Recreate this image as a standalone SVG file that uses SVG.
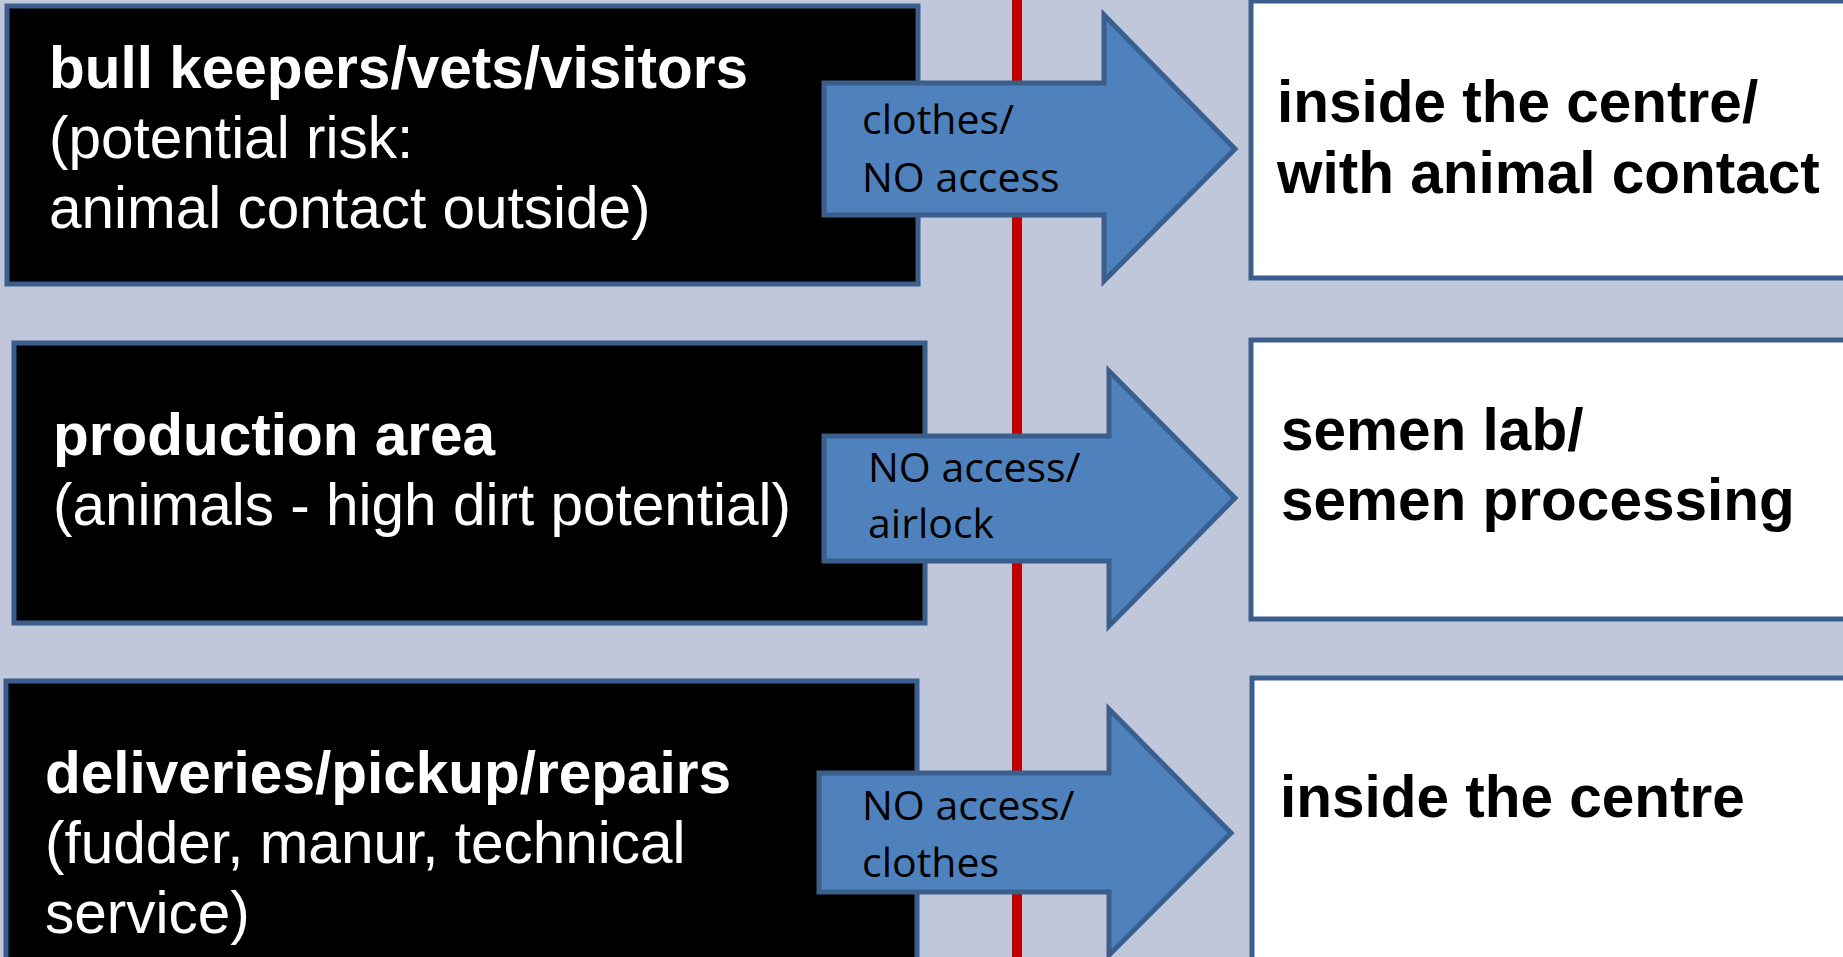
<svg xmlns="http://www.w3.org/2000/svg" width="1843" height="957" viewBox="0 0 1843 957">
<style>
.src{fill:#000;stroke:#3B5F8C;stroke-width:5}
.dst{fill:#fff;stroke:#3B5F8C;stroke-width:5}
.arr{fill:#4F81BD;stroke:#3B5F8C;stroke-width:5;stroke-linejoin:miter}
.tw{font-family:"Liberation Sans",Arial,sans-serif;font-size:58.5px;fill:#fff}
.tb{font-family:"Liberation Sans",Arial,sans-serif;font-size:58.5px;font-weight:bold;fill:#000}
.ta{font-family:"Open Sans","Noto Sans",sans-serif;font-size:41px;fill:#000}
.b{font-weight:bold}
</style>
<rect x="0" y="0" width="1843" height="957" fill="#C0C7DB"/>
<line x1="1017" y1="0" x2="1017" y2="957" stroke="#C00000" stroke-width="10"/>

<g id="node-bull-keepers">
<rect class="src" x="7" y="6" width="911" height="278"/>
<text class="tw"><tspan class="b" x="49" y="88">bull keepers/vets/visitors</tspan><tspan x="49" y="158">(potential risk:</tspan><tspan x="49" y="228">animal contact outside)</tspan></text>
</g>
<g id="node-production-area">
<rect class="src" x="14" y="343" width="911" height="280"/>
<text class="tw"><tspan class="b" x="53" y="455">production area</tspan><tspan x="53" y="525">(animals - high dirt potential)</tspan></text>
</g>
<g id="node-deliveries">
<rect class="src" x="6" y="681" width="911" height="290"/>
<text class="tw"><tspan class="b" x="45" y="793">deliveries/pickup/repairs</tspan><tspan x="45" y="863">(fudder, manur, technical</tspan><tspan x="45" y="933">service)</tspan></text>
</g>

<g id="node-inside-animal-contact">
<rect class="dst" x="1251" y="1" width="610" height="277"/>
<text class="tb"><tspan x="1277" y="122">inside the centre/</tspan><tspan x="1277" y="193">with animal contact</tspan></text>
</g>
<g id="node-semen-lab">
<rect class="dst" x="1251" y="340" width="610" height="279"/>
<text class="tb"><tspan x="1281" y="450">semen lab/</tspan><tspan x="1281" y="520">semen processing</tspan></text>
</g>
<g id="node-inside-centre">
<rect class="dst" x="1252" y="678" width="610" height="300"/>
<text class="tb"><tspan x="1280" y="817">inside the centre</tspan></text>
</g>

<g id="connectors">
<g id="arrow-1">
<polygon class="arr" points="824,83 1104,83 1104,15 1235,149 1104,281 1104,215 824,215"/>
<text class="ta"><tspan x="862" y="134">clothes/</tspan><tspan x="862" y="192">NO access</tspan></text>
</g>
<g id="arrow-2">
<polygon class="arr" points="824,436 1109,436 1109,371 1235,498 1109,626 1109,561 824,561"/>
<text class="ta"><tspan x="868" y="482">NO access/</tspan><tspan x="868" y="538">airlock</tspan></text>
</g>
<g id="arrow-3">
<polygon class="arr" points="819,773 1109,773 1109,709 1231,833 1109,955 1109,892 819,892"/>
<text class="ta"><tspan x="862" y="820">NO access/</tspan><tspan x="862" y="877">clothes</tspan></text>
</g>
</g>
</svg>
